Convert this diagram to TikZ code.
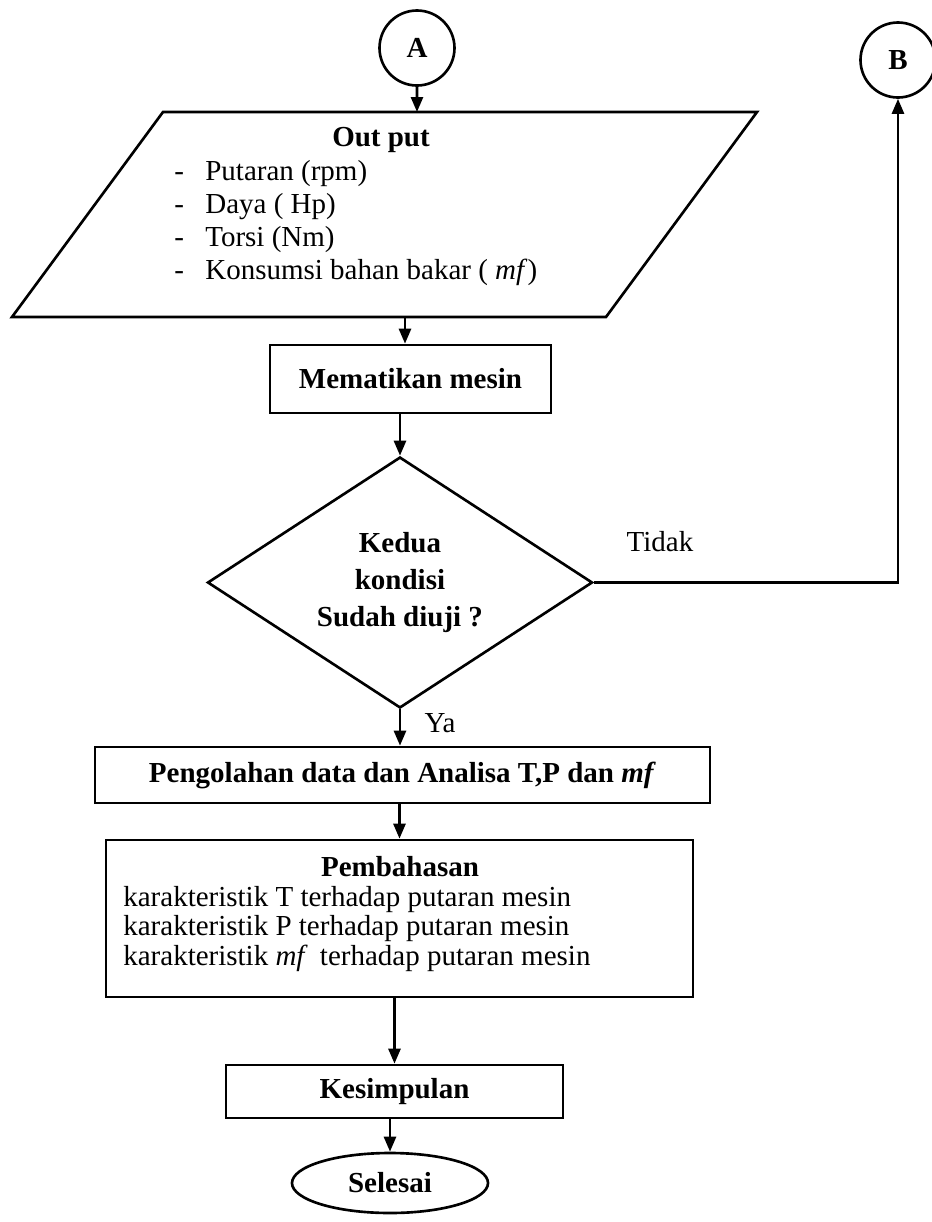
\documentclass[tikz,border=0pt]{standalone}
\usepackage{fontspec}
\setmainfont{Liberation Serif}
\usetikzlibrary{shapes.geometric,arrows.meta}

\begin{document}
\begin{tikzpicture}[scale=0.2, font=\fontsize{16.5}{19}\selectfont]
  \tikzstyle{every node}+=[inner sep=0pt]
  \tikzstyle{konektor}=[draw, circle, line width=1.5pt, minimum size=1.5cm, font=\fontsize{16.5}{19}\bfseries]
  \tikzstyle{kotak}=[draw, rectangle, line width=1.5pt, font=\fontsize{16.5}{19}\bfseries]
  \tikzstyle{panah}=[line width=1.5pt, -{Triangle[length=0.3cm,width=0.24cm]}]
  \useasboundingbox (0,0) rectangle (93.2,-122.2);
  \node [konektor] (A) at (41.7,-4.8) {A};
  \node [konektor] (B) at (89.8,-6.0) {B};
  % out put
  \draw [line width=1.5pt] (16.3,-11.2) -- (75.7,-11.2) -- (60.6,-31.7) -- (1.2,-31.7) -- cycle;
  \coordinate (outtop) at (41.7,-11.2);
  \coordinate (outbot) at (40.5,-31.7);
  \node [font=\fontsize{16.5}{19}\bfseries] (judul) at (38.1,-14.0) {Out put};
  \node [anchor=west, align=left, font=\fontsize{16.5}{18.8}\selectfont] (isi) at (17.4,-22.3)
    {\makebox[0.62cm][l]{-}Putaran (rpm)\\
     \makebox[0.62cm][l]{-}Daya ( Hp)\\
     \makebox[0.62cm][l]{-}Torsi (Nm)\\
     \makebox[0.62cm][l]{-}Konsumsi bahan bakar ( \textit{mf})};
  \node [kotak, minimum width=5.62cm, minimum height=1.36cm] (matikan) at (41.05,-37.9) {Mematikan mesin};
  \node [draw, diamond, line width=1.5pt, aspect=1.53, minimum width=7.7cm, minimum height=5.02cm,
    align=center, font=\fontsize{16.5}{21}\bfseries] (kondisi) at (40.0,-58.25) {Kedua\\kondisi\\Sudah diuji ?};
  \node (tidak) at (66.0,-54.2) {Tidak};
  \node (ya) at (44.0,-72.3) {Ya};
  \node [kotak, minimum width=12.3cm, minimum height=1.12cm] (olah) at (40.25,-77.5)
    {Pengolahan data dan Analisa T,P dan \textit{mf}};
  \node [kotak, minimum width=11.74cm, minimum height=3.14cm] (bahas) at (39.95,-91.85) {};
  \node [font=\fontsize{16.5}{19}\bfseries] (bahasjudul) at (40.0,-86.7) {Pembahasan};
  \node [anchor=west, align=left, font=\fontsize{16.5}{16.6}\selectfont] (bahasisi) at (12.3,-92.9)
    {karakteristik T terhadap putaran mesin\\
     karakteristik P terhadap putaran mesin\\
     karakteristik \textit{mf}\, terhadap putaran mesin};
  \node [kotak, minimum width=6.74cm, minimum height=1.06cm] (simpul) at (39.45,-109.15) {Kesimpulan};
  \node [draw, ellipse, line width=1.5pt, minimum width=3.92cm, minimum height=1.2cm,
    font=\fontsize{16.5}{19}\bfseries] (selesai) at (39.0,-118.3) {Selesai};
  % panah
  \draw [panah] (A) -- (outtop);
  \draw [panah] (outbot) -- (outbot |- matikan.north);
  \draw [panah] (kondisi.north |- matikan.south) -- (kondisi.north);
  \draw [panah] (kondisi.south) -- (kondisi.south |- olah.north);
  \draw [panah] (olah.south -| bahas.north) -- (bahas.north);
  \draw [panah] (bahas.south -| simpul.north) -- (simpul.north);
  \draw [panah] (simpul.south -| selesai.north) -- (selesai.north);
  \draw [panah] (kondisi.east) -| (B);
\end{tikzpicture}
\end{document}
